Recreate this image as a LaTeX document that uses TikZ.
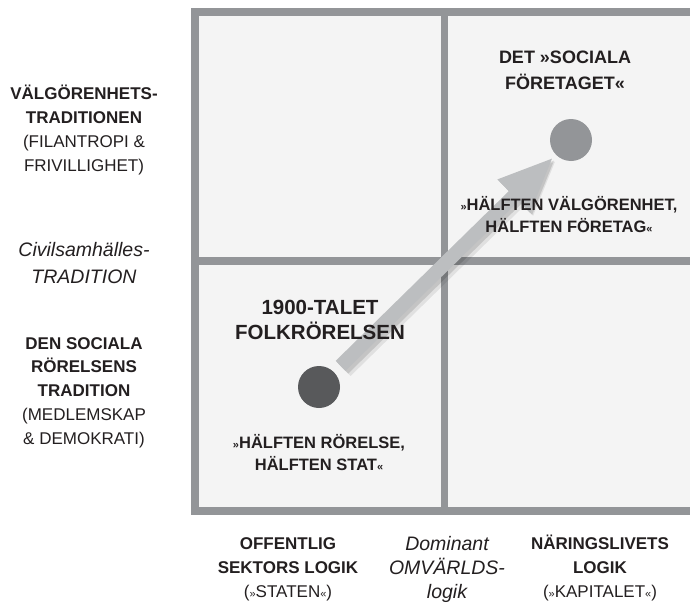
\documentclass[tikz,border=0pt]{standalone}
\usepackage{fontspec}
\setmainfont{Liberation Sans}
\usetikzlibrary{arrows.meta,positioning}
\definecolor{framegray}{HTML}{939598}
\definecolor{cellgray}{HTML}{F4F4F4}
\definecolor{dotdark}{HTML}{58595B}
\definecolor{arrowgray}{HTML}{BCBEC0}
\definecolor{ink}{HTML}{231F20}
\newcommand{\gq}[1]{{\fontsize{11}{11}\selectfont #1}}

\begin{document}
\begin{tikzpicture}[x=1pt,y=-1pt,
  lbl/.style={text=ink, align=center, anchor=base, inner sep=0pt,
    font=\fontsize{17}{23.7}\selectfont\bfseries},
  ital/.style={text=ink, align=center, anchor=base, inner sep=0pt,
    font=\fontsize{19.5}{27}\selectfont\itshape},
  title/.style={lbl, font=\fontsize{18}{25.5}\selectfont\bfseries},
  quote/.style={lbl, font=\fontsize{16.5}{21.5}\selectfont\bfseries},
  dot/.style={circle, minimum size=42pt, inner sep=0pt},
  divider/.style={draw=framegray, line width=7.5pt},
  trend/.style={draw=arrowgray, line width=14pt,
    -{Triangle[length=56pt,width=42pt]}, shorten <=9pt, shorten >=3pt}
]
\useasboundingbox (0,0) rectangle (690,605);
%----------------------------------
% frame and quadrants
\fill[framegray] (191,8) rectangle (690,515);
\fill[cellgray] (199,16) rectangle (690,507);
\draw[divider] (444.5,16) -- (444.5,507);
\draw[divider] (199,261) -- (690,261);
%----------------------------------
% positions and shift
\node[dot, fill=dotdark] (p1900) at (319,387) {};
\node[dot, fill=framegray] (pnow) at (571,140) {};
\draw[trend,
  preaction={draw=black, opacity=.08, line width=20pt, transform canvas={shift={(3,3)}}},
  preaction={draw=black, opacity=.12, line width=16pt, transform canvas={shift={(2,2)}}}]
  (p1900) -- (pnow);
%----------------------------------
% left column (nodes sit on their last baseline)
\node[lbl] (charity) at (84,171) {VÄLGÖRENHETS-\\TRADITIONEN\\\mdseries(FILANTROPI \&\\\mdseries FRIVILLIGHET)};
\node[ital] (civil) at (84,283) {Civilsamhälles-\\TRADITION};
\node[lbl] (movement) at (84,444) {DEN SOCIALA\\RÖRELSENS\\TRADITION\\\mdseries(MEDLEMSKAP\\\mdseries\& DEMOKRATI)};
%----------------------------------
% bottom row
\node[lbl] (state) at (288,597) {OFFENTLIG\\SEKTORS LOGIK\\\mdseries(\gq{»}STATEN\gq{«})};
\node[ital, font=\fontsize{19.5}{24}\selectfont\itshape] (logic) at (447,598) {Dominant\\OMVÄRLDS-\\logik};
\node[lbl] (market) at (600,597) {NÄRINGSLIVETS\\LOGIK\\\mdseries(\gq{»}KAPITALET\gq{«})};
%----------------------------------
% quadrant texts
\node[title] (socent) at (565,89) {DET »SOCIALA\\FÖRETAGET«};
\node[quote] (halfcharity) at (569,232) {\gq{»}HÄLFTEN VÄLGÖRENHET,\\HÄLFTEN FÖRETAG\gq{«}};
\node[title, font=\fontsize{20.5}{25}\selectfont\bfseries] (folk) at (320,339) {1900-TALET\\FOLKRÖRELSEN};
\node[quote] (halfstate) at (319,470) {\gq{»}HÄLFTEN RÖRELSE,\\HÄLFTEN STAT\gq{«}};
\end{tikzpicture}
\end{document}
